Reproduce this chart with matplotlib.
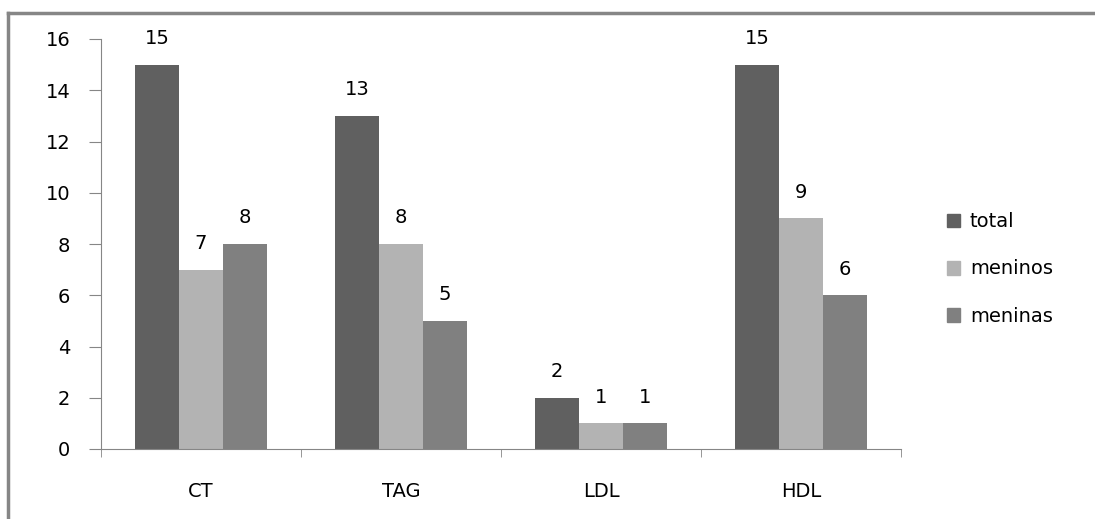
import numpy as np
import matplotlib.pyplot as plt
from matplotlib.lines import Line2D
from matplotlib.patches import Patch

# lipid profile counts per group
categories = ['CT', 'TAG', 'LDL', 'HDL']
series_names = ['total', 'meninos', 'meninas']
total = [15, 13, 2, 15]
meninos = [7, 8, 1, 9]
meninas = [8, 5, 1, 6]
y_ticks = [0, 2, 4, 6, 8, 10, 12, 14, 16]

colors = ['#606060', '#b3b3b3', '#808080']
axis_color = '#868686'
fs = 14

fig = plt.figure(figsize=(10.95, 5.19), dpi=100)
ax = fig.add_axes([101 / 1095, 1 - 449 / 519, 800 / 1095, 410 / 519])

x = np.arange(len(categories))
width = 0.22
for k, (vals, col) in enumerate(zip([total, meninos, meninas], colors)):
    bars = ax.bar(x + (k - 1) * width, vals, width, color=col, label=series_names[k])
    for b, v in zip(bars, vals):
        ax.annotate(str(v), (b.get_x() + b.get_width() / 2, v),
                    xytext=(0, 12), textcoords='offset points',
                    ha='center', va='bottom', fontsize=fs)

ax.set_xlim(-0.5, len(categories) - 0.5)
ax.set_ylim(0, 16)
ax.set_yticks(y_ticks)
ax.set_xticks(x)
ax.set_xticklabels(categories)
ax.set_xticks(np.arange(len(categories) + 1) - 0.5, minor=True)
ax.tick_params(axis='x', which='major', length=0, pad=24, labelsize=fs)
ax.tick_params(axis='x', which='minor', length=6, color=axis_color, direction='out')
ax.tick_params(axis='y', length=9, color=axis_color, pad=13, labelsize=fs)

for s in ['top', 'right']:
    ax.spines[s].set_visible(False)
for s in ['left', 'bottom']:
    ax.spines[s].set_color(axis_color)

handles = [Patch(color=c) for c in colors]
fig.legend(handles, series_names, loc='center left',
           bbox_to_anchor=(929 / 1095, 1 - 269 / 519), frameon=False,
           fontsize=fs, handlelength=0.7, handleheight=0.7,
           handletextpad=0.5, labelspacing=1.45)

# chart border
fig.add_artist(Line2D([8 / 1095, 1], [1 - 13 / 519] * 2, color=axis_color, lw=2.5))
fig.add_artist(Line2D([8 / 1095] * 2, [0, 1 - 13 / 519], color=axis_color, lw=2.5))

fig.savefig('out.png', dpi=100)
